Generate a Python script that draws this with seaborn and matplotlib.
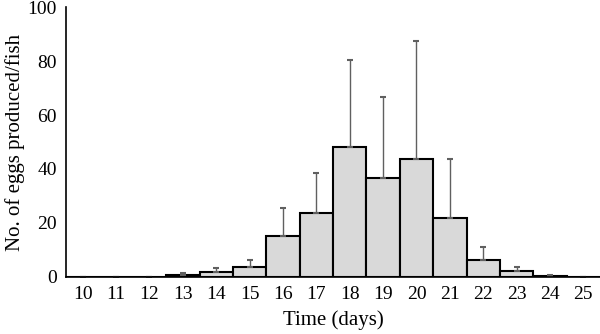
import numpy as np
import pandas as pd
import matplotlib
matplotlib.use("Agg")
import matplotlib.pyplot as plt
import seaborn as sns

days = [10, 11, 12, 13, 14, 15, 16, 17, 18, 19, 20, 21, 22, 23, 24, 25]
eggs_mean = [0, 0.05, 0.05, 0.8, 2.0, 3.8, 15.2, 23.7, 48.0, 36.5, 43.6, 21.9, 6.4, 2.2, 0.5, 0]
eggs_sd = [0, 0.1, 0.1, 0.8, 1.4, 2.6, 10.4, 14.7, 32.4, 30.2, 43.7, 21.9, 4.8, 1.6, 0.35, 0]

sns.set_theme(style="white")
plt.rcParams['font.family'] = ['Liberation Serif', 'DejaVu Serif']

df = pd.DataFrame({"day": [str(d) for d in days], "eggs": eggs_mean})

fig = plt.figure(figsize=(6.0, 3.34), dpi=100)
ax = fig.add_axes([0.11, 0.1707, 0.89, 0.8083])

sns.barplot(data=df, x="day", y="eggs", ax=ax, color="#d9d9d9", width=1.0,
            edgecolor="black", linewidth=1.5, saturation=1, errorbar=None)

x = np.arange(len(days))
ax.errorbar(x, eggs_mean, yerr=[np.zeros(len(days)), eggs_sd], fmt="none",
            ecolor="#606060", elinewidth=1.0, capsize=2.5, capthick=1.5, zorder=1)

ax.set_xlim(-0.5, len(days) - 0.5)
ax.set_ylim(0, 100)
ax.set_yticks([0, 20, 40, 60, 80, 100])
ax.tick_params(axis="both", length=0, labelsize=14, colors="black")
ax.tick_params(axis="y", pad=6.5)
ax.tick_params(axis="x", pad=6.5)
for s in ["top", "right"]:
    ax.spines[s].set_visible(False)
for s in ["left", "bottom"]:
    ax.spines[s].set_color("black")
    ax.spines[s].set_linewidth(1.2)
ax.set_xlabel("Time (days)", fontsize=15, color="black", labelpad=5)
ax.set_ylabel("No. of eggs produced/fish", fontsize=15, color="black", labelpad=2)
ax.grid(False)

fig.savefig("out.png", dpi=100)
